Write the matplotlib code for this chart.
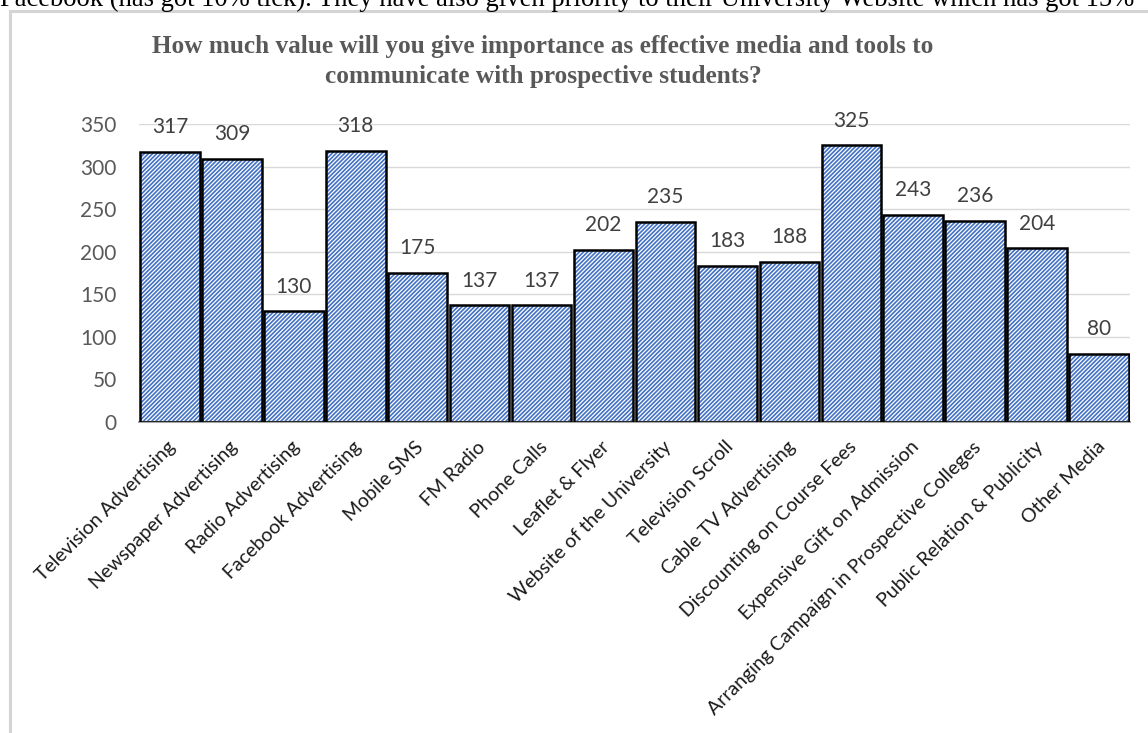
import matplotlib.pyplot as plt
from matplotlib.patches import Rectangle
from matplotlib.transforms import ScaledTranslation
import numpy as np

# survey results: votes per media / tool
media = ["Television Advertising", "Newspaper Advertising", "Radio Advertising",
         "Facebook Advertising", "Mobile SMS", "FM Radio", "Phone Calls",
         "Leaflet & Flyer", "Website of the University", "Television Scroll",
         "Cable TV Advertising", "Discounting on Course Fees",
         "Expensive Gift on Admission", "Arranging Campaign in Prospective Colleges",
         "Public Relation & Publicity", "Other Media"]
votes = [317, 309, 130, 318, 175, 137, 137, 202, 235, 183, 188, 325, 243, 236, 204, 80]
yticks = [0, 50, 100, 150, 200, 250, 300, 350]

title = ("How much value will you give importance as effective media and tools to\n"
         "communicate with prospective students?")
doc_line = ("Facebook (has got 10% tick). They have also given priority to their "
            "University Website which has got 15%")

plt.rcParams['font.family'] = ['Lato', 'DejaVu Sans']
plt.rcParams['hatch.linewidth'] = 0.9

W, H = 1148, 733
fig = plt.figure(figsize=(W / 100, H / 100), dpi=100)

# the chart frame of the document, cut by the picture edges
fig.patches.append(Rectangle((10 / W, -0.1), 1.2, (H - 11) / H + 0.1, transform=fig.transFigure,
                             fill=False, edgecolor='#d4d4d4', linewidth=2.2, zorder=0))
# sentence of the document above the chart, only its lower part shows
fig.text(0.0, 1 - 6 / H, doc_line, family='Liberation Serif', fontsize=19.2,
         color='black', va='baseline', ha='left')

fig.text(543 / W, 1 - 35 / H, title, family='Liberation Serif', fontweight='bold',
         fontsize=18.2, color='#595959', ha='center', va='top', linespacing=1.38)

ax = fig.add_axes([139 / W, (H - 422) / H, 991 / W, 298 / H])
x = np.arange(len(media))
ax.bar(x, votes, width=0.96, color='#4472c4', edgecolor='white', linewidth=0,
       hatch='////////', zorder=2)
ax.bar(x, votes, width=0.96, fill=False, edgecolor='black', linewidth=1.8, zorder=3)

for xi, v in zip(x, votes):
    ax.annotate(str(v), (xi, v), xytext=(0, 13.5), textcoords='offset points',
                ha='center', va='baseline', fontsize=15, color='#404040')

ax.set_xlim(-0.5, len(media) - 0.5)
ax.set_ylim(0, 350)
ax.set_yticks(yticks)
ax.yaxis.grid(True, color='#d9d9d9', linewidth=1, zorder=0)
ax.set_axisbelow(True)
for s in ['top', 'right', 'left']:
    ax.spines[s].set_visible(False)
ax.spines['bottom'].set_color('#a6a6a6')
ax.spines['bottom'].set_linewidth(1.5)
ax.tick_params(axis='y', length=0, pad=16, labelsize=15, labelcolor='#595959')
ax.tick_params(axis='x', length=0, pad=16, labelsize=14, labelcolor='#1a1a1a')
ax.set_xticks(x)
ax.set_xticklabels(media, rotation=45, ha='right', va='center', rotation_mode='anchor')
for lab in ax.get_xticklabels():
    lab.set_transform(lab.get_transform() + ScaledTranslation(3 / 100, 0, fig.dpi_scale_trans))

fig.savefig("out.png", dpi=100)
